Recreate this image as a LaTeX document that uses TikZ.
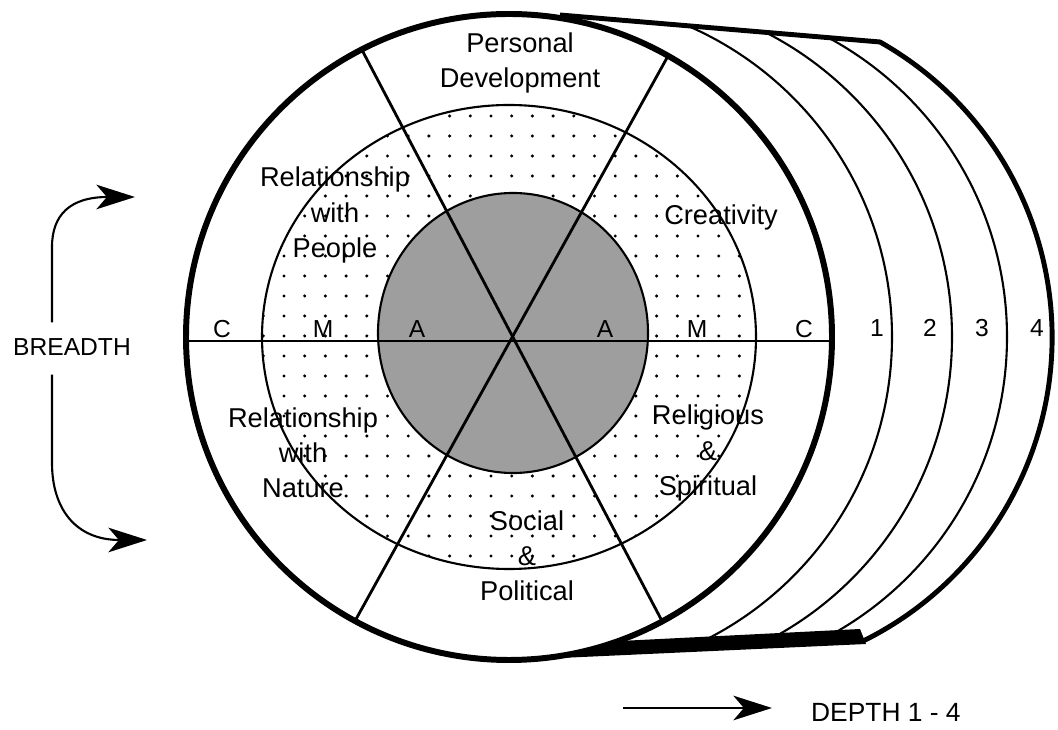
\documentclass[tikz,border=0pt]{standalone}
\usepackage{fontspec}
\setmainfont{Liberation Sans}
\usetikzlibrary{positioning, arrows.meta}

\begin{document}
\begin{tikzpicture}[
		x=0.02cm, y=0.02cm,                       % 1 单位 = 1 像素
		rim/.style={line width=3.4pt},            % 前盘粗边
		backrim/.style={line width=2.8pt},        % 后盘外廓
		ring/.style={line width=1.2pt},           % 细圆
		spoke/.style={line width=1.6pt},          % 分区直线
		area/.style={font=\fontsize{15.5}{20}\selectfont, align=center, inner sep=0pt},
		tick/.style={font=\fontsize{14}{16}\selectfont, anchor=base, inner sep=0pt},
		bigarrow/.style={line width=1.2pt, -{Stealth[length=22pt, width=14pt, inset=6pt]}}
		]
		\useasboundingbox (0,0) rectangle (1058,730);
		
		% 后面的层 1-4
		\begin{scope}
			\clip (560,715) -- (880,688) -- (1058,688) -- (1058,89) -- (862,89) -- (560,74) -- cycle;
			\foreach \cx/\r in {553/339, 610/342, 667/340}
			\draw[ring] (\cx,393) circle[radius=\r];
		\end{scope}
		\draw[backrim, line join=round] (560,715) -- (880,688) arc[start angle=60.5, end angle=-64, radius=339];
		\fill (560,72) -- (866,86) -- (860,101) -- (580,87) -- cycle;
		
		% 前盘
		\draw[rim, fill=white] (509,393) circle[radius=323];
		\begin{scope}
			\clip (509,393) ellipse[x radius=247, y radius=232];
			\foreach \i in {0,...,25}
			\foreach \j in {0,...,25}
			\fill ({263.3+20.7*\i},{654-20*\j}) circle[radius=1.7];
		\end{scope}
		\draw[ring] (509,393) ellipse[x radius=247, y radius=232];
		\draw[ring, fill=black!38] (513,397) ellipse[x radius=135, y radius=140];
		
		\coordinate (tl) at (362,680);
		\coordinate (br) at (662,109);
		\coordinate (tr) at (668,674);
		\coordinate (bl) at (355,109);
		\coordinate (lc) at (186,389);
		\coordinate (rc) at (832,389);
		\draw[spoke] (tl) -- (br);
		\draw[spoke] (tr) -- (bl);
		\draw[spoke] (lc) -- (rc);
		
		\node[area] (pd) at (520,667) {Personal\\Development};
		\node[area] (rp) at (335,515) {Relationship\\with\\People};
		\node[area] (cr) at (721,513) {Creativity};
		\node[area] (rn) at (303,277) {Relationship\\with\\Nature};
		\node[area] (rs) at (708,277) {Religious\\\&\\Spiritual};
		\node[area] (sp) at (527,174) {Social\\\&\\Political};
		
		\node[tick] (c1) at (222,392) {C};
		\node[tick] (m1) at (323,392) {M};
		\node[tick] (a1) at (417,392) {A};
		\node[tick] (a2) at (605,392) {A};
		\node[tick] (m2) at (697,392) {M};
		\node[tick] (c2) at (804,392) {C};
		
		\node[tick] (d1) at (877,393) {1};
		\node[tick] (d2) at (930,393) {2};
		\node[tick] (d3) at (982,393) {3};
		\node[tick] (d4) at (1037,393) {4};
		
		% 宽度
		\node[font=\fontsize{14}{16}\selectfont] (breadth) at (72,383) {BREADTH};
		\coordinate (bup) at (135,533);
		\coordinate (bdown) at (147,190);
		\draw[bigarrow] ([xshift=-0.4cm, yshift=0.2cm]breadth.north) -- (52,483) .. controls (52,515) and (70,533) .. (bup);
		\draw[bigarrow] ([xshift=-0.4cm, yshift=-0.26cm]breadth.south) -- (52,267) .. controls (52,222) and (75,190) .. (bdown);
		
		% 深度
		\node[font=\fontsize{15}{17}\selectfont, anchor=west] (depth) at (805,18) {DEPTH 1 - 4};
		\coordinate (dtail) at (623,22);
		\coordinate (dtip) at (772,22);
		\draw[bigarrow] (dtail) -- (dtip);
	\end{tikzpicture}
\end{document}
